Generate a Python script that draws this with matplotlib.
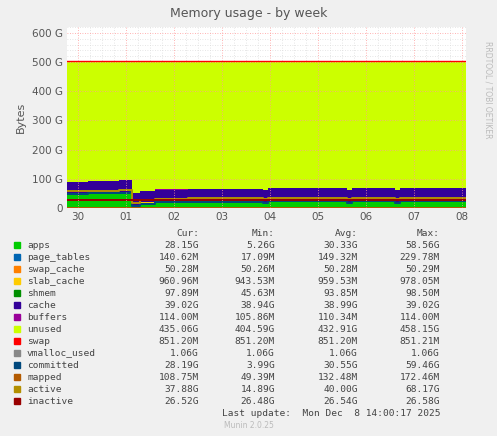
import matplotlib
matplotlib.use('Agg')
import matplotlib.pyplot as plt
import numpy as np

# time in days, 0 = Nov 30 00:00
times = [-0.23, 0.2, 0.85, 1.08, 1.12, 1.3, 1.6, 2.3, 3.85, 3.95, 5.6, 5.7, 6.6, 6.7, 8.08]
apps = [50, 53, 55, 56, 10, 18, 21, 23, 19, 25, 20, 25, 20, 25, 26]
page_tables = [0.15] * 15
swap_cache = [0.05] * 15
slab_cache = [1.0] * 15
shmem = [0.1] * 15
cache = [38, 39, 39, 40, 39, 40, 41, 41, 40, 41, 40, 41, 40, 41, 41]
buffers = [0.11] * 15
swap = [0.85] * 15
total = 503.0
vmalloc_used = [1.06] * 15
committed = [48, 51, 53, 55, 6, 15, 19, 21, 17, 23, 18, 23, 18, 23, 24]
mapped = [0.11] * 15
active = [58, 59, 62, 63, 16, 27, 30, 33, 30, 34, 31, 34, 31, 34, 34]
inactive = [26.5] * 15

names = ['apps', 'page_tables', 'swap_cache', 'slab_cache', 'shmem', 'cache', 'buffers',
         'unused', 'swap', 'vmalloc_used', 'committed', 'mapped', 'active', 'inactive']
colors = ['#00CC00', '#0066B3', '#FF8000', '#FFCC00', '#008F00', '#330099', '#990099',
          '#CCFF00', '#FF0000', '#888888', '#00487D', '#B35A00', '#B38F00', '#990000']
cur = ['28.15G', '140.62M', '50.28M', '960.96M', '97.89M', '39.02G', '114.00M', '435.06G',
       '851.20M', '1.06G', '28.19G', '108.75M', '37.88G', '26.52G']
mins = ['5.26G', '17.09M', '50.26M', '943.53M', '45.63M', '38.94G', '105.86M', '404.59G',
        '851.20M', '1.06G', '3.99G', '49.39M', '14.89G', '26.48G']
avgs = ['30.33G', '149.32M', '50.28M', '959.53M', '93.85M', '38.99G', '110.34M', '432.91G',
        '851.20M', '1.06G', '30.55G', '132.48M', '40.00G', '26.54G']
maxs = ['58.56G', '229.78M', '50.29M', '978.05M', '98.50M', '39.02G', '114.00M', '458.15G',
        '851.21M', '1.06G', '59.46G', '172.46M', '68.17G', '26.58G']
day_labels = ['30', '01', '02', '03', '04', '05', '06', '07', '08']

W, H = 497, 436
fig = plt.figure(figsize=(W / 100, H / 100), dpi=100, facecolor='#f0f0f0')
ax = fig.add_axes([67 / W, 1 - 208 / H, (466 - 67) / W, (208 - 27) / H])
ax.set_facecolor('white')

t = np.array(times)
stack = [np.array(a, float) for a in (apps, page_tables, swap_cache, slab_cache, shmem, cache, buffers)]
unused = total - sum(stack) - np.array(swap)
stack += [unused, np.array(swap)]
base = np.zeros(len(t))
for s, c in zip(stack, colors[:9]):
    ax.fill_between(t, base, base + s, step='post', color=c, lw=0, zorder=2)
    base = base + s
for s, c in zip((vmalloc_used, committed, mapped, active, inactive), colors[9:]):
    ax.step(t, s, where='post', color=c, lw=1.4, zorder=3)
ax.step(t, base, where='post', color='#FF0000', lw=1, zorder=3)

ax.set_xlim(times[0], times[-1])
ax.set_ylim(0, 620)
for d in np.arange(0, 8.01, 0.25):
    ax.axvline(d, color='#ff9999' if d % 1 == 0 else '#dddddd', lw=0.6, ls=(0, (1, 2)), zorder=1 if d % 1 else 4)
for y in range(0, 621, 20):
    ax.axhline(y, color='#ff9999' if y % 100 == 0 else '#dddddd', lw=0.6, ls=(0, (1, 2)), zorder=1 if y % 100 else 4)
ax.set_xticks(range(9))
ax.set_xticklabels(day_labels)
ax.set_yticks(range(0, 601, 100))
ax.set_yticklabels(['0'] + ['%d G' % v for v in range(100, 601, 100)])
ax.tick_params(labelsize=7.5, colors='#555555', length=0, pad=3)
for sp in ax.spines.values():
    sp.set_visible(False)
ax.set_ylabel('Bytes', fontsize=8, color='#555555')

fig.text(0.5, 1 - 13 / H, 'Memory usage - by week', ha='center', va='center', fontsize=9, color='#555555')
fig.text(488 / W, 1 - 90 / H, 'RRDTOOL / TOBI OETIKER', rotation=270, ha='center', va='center',
         fontsize=5.5, color='#bbbbbb')

mono = 'DejaVu Sans Mono'
y0 = 233
for x, h in ((199, 'Cur:'), (275, 'Min:'), (358, 'Avg:'), (440, 'Max:')):
    fig.text(x / W, 1 - y0 / H, h, ha='right', va='center', fontsize=6.8, family=mono, color='#444444')
for i, n in enumerate(names):
    y = 1 - (y0 + 12 + i * 12) / H
    fig.patches.append(plt.Rectangle((14 / W, y - 3 / H), 6 / W, 6 / H, transform=fig.transFigure,
                                     color=colors[i], figure=fig))
    fig.text(27 / W, y, n, va='center', fontsize=6.8, family=mono, color='#444444')
    for x, col in ((199, cur), (275, mins), (358, avgs), (440, maxs)):
        fig.text(x / W, y, col[i], ha='right', va='center', fontsize=6.8, family=mono, color='#444444')
fig.text(440 / W, 1 - 413 / H, 'Last update:  Mon Dec  8 14:00:17 2025', ha='right', va='center',
         fontsize=6.8, family=mono, color='#444444')
fig.text(0.5, 1 - 425 / H, 'Munin 2.0.25', ha='center', va='center', fontsize=5.5, color='#bbbbbb')

fig.savefig('out.png', dpi=100, facecolor=fig.get_facecolor())
